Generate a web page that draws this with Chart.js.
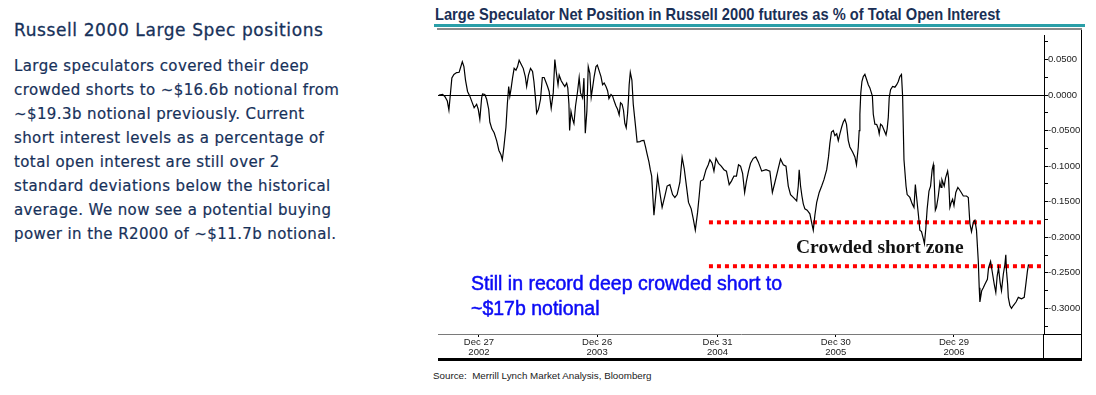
<!DOCTYPE html>
<html>
<head>
<meta charset="utf-8">
<script src="https://cdn.jsdelivr.net/npm/chart.js@4.4.1/dist/chart.umd.min.js"></script>
<style>
  body { margin: 0; background: #fff; width: 1096px; height: 395px; position: relative; overflow: hidden; }
  .abs { position: absolute; white-space: nowrap; }
  #sideTitle { left: 14px; top: 19px; font: 17px 'DejaVu Sans', sans-serif; letter-spacing: 0.6px; line-height: 22px; color: #17315a; -webkit-text-stroke: 0.3px #17315a; }
  #sideText { left: 14px; top: 54px; font: 15px 'DejaVu Sans', sans-serif; letter-spacing: 0.4px; line-height: 24px; color: #17315a; -webkit-text-stroke: 0.2px #17315a; }
  #chartTitle { left: 435px; top: 5px; font: bold 17px 'Liberation Sans', Arial, sans-serif; color: #1a2f55; transform-origin: 0 0; line-height: 19px; }
  #teal { left: 434px; top: 24px; width: 651px; height: 3px; background: #2a9fa8; }
  #grayBar { left: 437px; top: 28px; width: 645px; height: 2px; background: #8a8a8a; }
  #zone { left: 796px; top: 235px; font: bold 19.5px 'Liberation Serif', 'Times New Roman', serif; color: #111; line-height: 24px; }
  #blue { left: 471px; top: 271px; font: 19.5px 'Liberation Sans', Arial, sans-serif; color: #0b0bf5; line-height: 25px; -webkit-text-stroke: 0.5px #0b0bf5; }
  #source { left: 433px; top: 370px; font: 9.8px 'Liberation Sans', Arial, sans-serif; color: #222; }
  #wrap { position: absolute; left: 438px; top: 30px; width: 644px; height: 331px; }
</style>
</head>
<body>
<div class="abs" id="sideTitle">Russell 2000 Large Spec positions</div>
<div class="abs" id="sideText">Large speculators covered their deep<br>crowded shorts to ~$16.6b notional from<br>~$19.3b notional previously. Current<br>short interest levels as a percentage of<br>total open interest are still over 2<br>standard deviations below the historical<br>average. We now see a potential buying<br>power in the R2000 of ~$11.7b notional.</div>
<div class="abs" id="chartTitle">Large Speculator Net Position in Russell 2000 futures as % of Total Open Interest</div>
<div class="abs" id="teal"></div>
<div class="abs" id="grayBar"></div>
<div id="wrap"><canvas id="c" width="644" height="331"></canvas></div>
<div class="abs" id="zone">Crowded short zone</div>
<div class="abs" id="blue">Still in record deep crowded short to<br>~$17b notional</div>
<div class="abs" id="source">Source:&nbsp; Merrill Lynch Market Analysis, Bloomberg</div>
<script>
// weeks counted from Dec 27 2002
const weeks = [-17.6,-16.0,-15.0,-13.9,-13.2,-12.5,-11.9,-11.0,-9.8,-8.7,-7.3,-6.6,-5.9,-5.0,-4.0,-2.9,-2.1,-1.0,-0.3,0.4,
  1.2,1.6,2.6,3.4,4.3,4.8,5.7,6.7,7.8,8.8,9.7,10.3,11.0,11.9,12.5,13.1,13.6,14.2,14.8,15.5,
  16.3,17.0,17.7,18.8,19.5,20.4,21.0,21.8,22.7,23.6,24.2,24.8,25.4,26.2,27.1,27.9,28.7,29.5,30.2,30.9,
  31.8,32.7,33.4,34.0,34.8,35.3,36.2,37.1,37.8,38.6,39.1,39.6,39.9,40.5,41.2,41.8,42.5,43.4,44.1,44.7,
  45.6,46.2,46.8,47.5,48.1,48.8,49.4,50.0,50.7,51.5,52.1,52.9,53.7,54.4,55.1,55.9,56.6,57.2,58.1,58.8,
  59.5,60.3,61.0,61.7,62.3,63.0,63.6,64.2,64.8,65.4,65.8,66.1,66.6,67.3,67.9,68.5,69.1,69.6,70.8,71.8,
  72.6,73.3,74.0,74.8,75.4,76.0,77.0,78.6,79.6,80.6,81.8,82.8,84.0,85.2,86.2,87.2,88.4,89.4,90.3,91.3,
  92.2,93.4,94.3,95.2,96.2,96.9,97.5,98.7,99.9,100.9,101.6,102.6,103.4,104.3,105.4,106.6,107.8,108.9,110.1,111.1,
  112.2,113.3,114.2,115.1,116.0,116.9,117.7,118.6,119.5,120.7,121.8,122.9,123.6,124.4,126.3,128.0,129.1,130.2,131.7,132.7,
  133.9,135.1,136.1,137.1,138.3,139.8,140.5,140.9,141.5,142.1,142.7,143.4,144.4,145.6,146.5,147.1,147.8,148.6,149.7,150.8,
  151.8,153.0,153.8,154.4,155.1,155.9,156.6,157.4,158.1,158.8,159.6,160.3,161.0,161.7,162.5,163.2,164.4,165.4,166.1,166.9,
  167.3,167.6,168.0,168.5,169.1,169.8,170.6,171.3,172.0,173.1,173.5,174.2,175.0,175.7,176.1,176.7,177.4,178.3,179.1,179.6,
  180.1,180.5,181.1,182.0,183.0,183.8,184.5,185.2,185.9,186.4,187.0,187.9,188.4,189.6,190.6,191.4,192.0,192.5,193.3,194.0,
  194.7,195.5,196.0,196.6,197.2,198.0,198.7,199.4,199.9,200.2,200.8,201.3,202.1,202.8,203.3,203.7,204.7,205.3,206.2,206.6,
  207.2,207.8,208.4,209.0,209.8,210.7,211.3,212.2,213.1,214.5,215.3,216.0,216.7,217.5,218.2,218.9,219.7,220.1,220.4,221.2,
  221.9,222.6,223.7,224.2,225.1,226.0,226.7,227.4,228.0,228.6,229.3,229.9,230.7,231.4,231.8,232.1,232.6,232.9,233.6,234.3,
  235.1,236.3,237.3,238.7,239.9,240.7,241.3,241.8];

const netPosition = [0.000,0.001,-0.002,-0.0085,-0.021,0.003,0.024,0.029,0.0315,0.032,0.0467,0.040,0.021,0.005,-0.0016,-0.011,-0.018,-0.013,-0.020,-0.034,
  -0.004,0.0016,0.0007,-0.006,-0.020,-0.038,-0.0476,-0.053,-0.064,-0.078,-0.084,-0.091,-0.073,-0.045,-0.013,0.012,-0.0016,0.010,0.024,0.0375,
  0.035,0.040,0.049,0.042,0.0375,0.026,0.012,0.028,0.0375,0.033,0.019,-0.0016,-0.0255,-0.020,-0.006,0.0246,0.0246,0.018,0.012,0.005,
  -0.0186,0.003,0.050,0.033,0.0145,0.028,0.020,0.0154,0.012,0.0168,0.010,-0.013,-0.050,-0.023,-0.034,-0.040,-0.0154,0.005,0.0246,0.003,
  -0.004,0.0237,-0.0536,-0.0223,0.040,0.0306,-0.003,0.010,0.026,0.040,0.042,0.034,0.026,0.0145,0.0168,0.012,0.006,-0.005,0.0007,-0.0016,
  -0.0085,-0.0154,-0.020,-0.028,-0.011,-0.013,-0.0214,-0.040,-0.046,-0.026,-0.006,0.0145,0.032,0.021,-0.013,-0.0315,-0.050,-0.066,-0.0655,-0.064,
  -0.0637,-0.073,-0.083,-0.094,-0.105,-0.114,-0.169,-0.114,-0.137,-0.158,-0.142,-0.128,-0.126,-0.140,-0.144,-0.140,-0.123,-0.0876,-0.103,-0.128,
  -0.151,-0.160,-0.174,-0.190,-0.165,-0.142,-0.121,-0.119,-0.105,-0.098,-0.091,-0.096,-0.107,-0.089,-0.096,-0.100,-0.105,-0.107,-0.126,-0.121,
  -0.114,-0.114,-0.098,-0.100,-0.110,-0.137,-0.121,-0.107,-0.096,-0.089,-0.087,-0.094,-0.100,-0.107,-0.105,-0.107,-0.137,-0.123,-0.103,-0.090,
  -0.098,-0.100,-0.128,-0.140,-0.144,-0.149,-0.128,-0.105,-0.128,-0.142,-0.153,-0.160,-0.162,-0.167,-0.181,-0.190,-0.169,-0.151,-0.137,-0.128,
  -0.119,-0.105,-0.087,-0.068,-0.052,-0.050,-0.057,-0.0545,-0.064,-0.0545,-0.045,-0.038,-0.034,-0.041,-0.064,-0.073,-0.080,-0.087,-0.098,-0.073,
  -0.050,-0.027,0.003,0.019,0.026,0.029,0.0214,0.0145,0.010,-0.0016,-0.027,-0.041,-0.0415,-0.0476,-0.0545,-0.041,-0.043,-0.050,-0.056,-0.0476,
  -0.0315,-0.004,0.0076,0.012,0.011,0.0145,0.019,0.026,0.029,-0.0016,-0.091,-0.128,-0.140,-0.144,-0.153,-0.158,-0.126,-0.142,-0.167,-0.190,
  -0.192,-0.202,-0.209,-0.188,-0.160,-0.135,-0.128,-0.105,-0.098,-0.114,-0.162,-0.158,-0.142,-0.123,-0.130,-0.119,-0.128,-0.1165,-0.107,-0.1165,
  -0.158,-0.151,-0.1465,-0.1555,-0.137,-0.130,-0.1325,-0.137,-0.142,-0.142,-0.144,-0.181,-0.192,-0.179,-0.176,-0.190,-0.234,-0.271,-0.291,-0.275,
  -0.271,-0.266,-0.259,-0.243,-0.234,-0.252,-0.266,-0.2775,-0.2545,-0.243,-0.2637,-0.275,-0.252,-0.238,-0.2245,-0.2476,-0.266,-0.2845,-0.296,-0.300,
  -0.296,-0.291,-0.2845,-0.2866,-0.2845,-0.2637,-0.2476,-0.238];

// crowded short zone bounds
const zoneLevels = [-0.179, -0.2407];
const zoneWeeks = [101.2, 248.6];

const xRange = [-18, 248.6];
const yRange = [-0.336, 0.0834];

const tickWeeks = [0, 52, 105, 157, 209];
const tickLabels = [['Dec 27', '2002'], ['Dec 26', '2003'], ['Dec 31', '2004'], ['Dec 30', '2005'], ['Dec 29', '2006']];
const yTicks = [-0.325, -0.3, -0.275, -0.25, -0.225, -0.2, -0.175, -0.15, -0.125, -0.1, -0.075, -0.05, -0.025, 0, 0.025, 0.05, 0.075];

// squeeze the chart title into its box
const t = document.getElementById('chartTitle');
t.style.transform = 'scaleX(' + (565 / t.offsetWidth) + ')';

const series = weeks.map((w, i) => ({ x: w, y: netPosition[i] }));
const zoneSets = zoneLevels.map(lv => ({
  data: zoneWeeks.map(w => ({ x: w, y: lv })),
  borderColor: '#ff0000',
  borderWidth: 4,
  borderDash: [4, 4],
  borderCapStyle: 'butt',
  pointRadius: 0,
  fill: false,
}));

const frame = {
  id: 'frame',
  afterDraw(chart) {
    const ctx = chart.ctx;
    const a = chart.chartArea;
    const W = chart.width, H = chart.height;
    ctx.save();
    ctx.fillStyle = '#000';
    // y axis line carried down through the label band
    ctx.fillRect(Math.round(a.right) - 1, a.bottom, 1, H - a.bottom);
    // right border
    ctx.fillRect(W - 1, 0, 1, H);
    // thick base line
    ctx.fillRect(0, H - 3, W, 3);
    // plot bottom line continued to the right border
    ctx.fillRect(a.right, Math.round(a.bottom), W - a.right, 1);
    ctx.restore();
  }
};

new Chart(document.getElementById('c'), {
  type: 'line',
  data: {
    datasets: [
      {
        data: series,
        borderColor: '#000',
        borderWidth: 1.2,
        pointRadius: 0,
        tension: 0,
        fill: false,
      },
      ...zoneSets,
    ],
  },
  options: {
    responsive: false,
    animation: false,
    devicePixelRatio: 1,
    layout: { padding: 0 },
    plugins: { legend: { display: false }, tooltip: { enabled: false } },
    scales: {
      x: {
        type: 'linear',
        min: xRange[0],
        max: xRange[1],
        afterFit: s => { s.height = 27; },
        afterBuildTicks: s => { s.ticks = tickWeeks.map(v => ({ value: v })); },
        ticks: {
          autoSkip: false,
          maxRotation: 0,
          padding: 0,
          color: '#222',
          font: { family: 'Liberation Sans', size: 9.5, lineHeight: 1.05 },
          callback: (v, i) => tickLabels[i],
        },
        grid: { drawOnChartArea: false, tickLength: 3, tickColor: '#000' },
        border: { color: '#7a7a7a', width: 1 },
      },
      y: {
        type: 'linear',
        position: 'right',
        min: yRange[0],
        max: yRange[1],
        afterFit: s => { s.width = 38; },
        afterBuildTicks: s => { s.ticks = yTicks.map(v => ({ value: v })); },
        ticks: {
          padding: 0,
          color: '#222',
          font: { family: 'Liberation Sans', size: 9.5 },
          callback: v => (Math.round(v / 0.025) % 2 === 0 ? v.toFixed(4) : ''),
        },
        grid: {
          drawOnChartArea: true,
          color: c => (c.tick && c.tick.value === 0 ? '#000' : 'rgba(0,0,0,0)'),
          tickColor: '#000',
          tickLength: 4,
        },
        border: { color: '#000', width: 1 },
      },
    },
  },
  plugins: [frame],
});
</script>
</body>
</html>
